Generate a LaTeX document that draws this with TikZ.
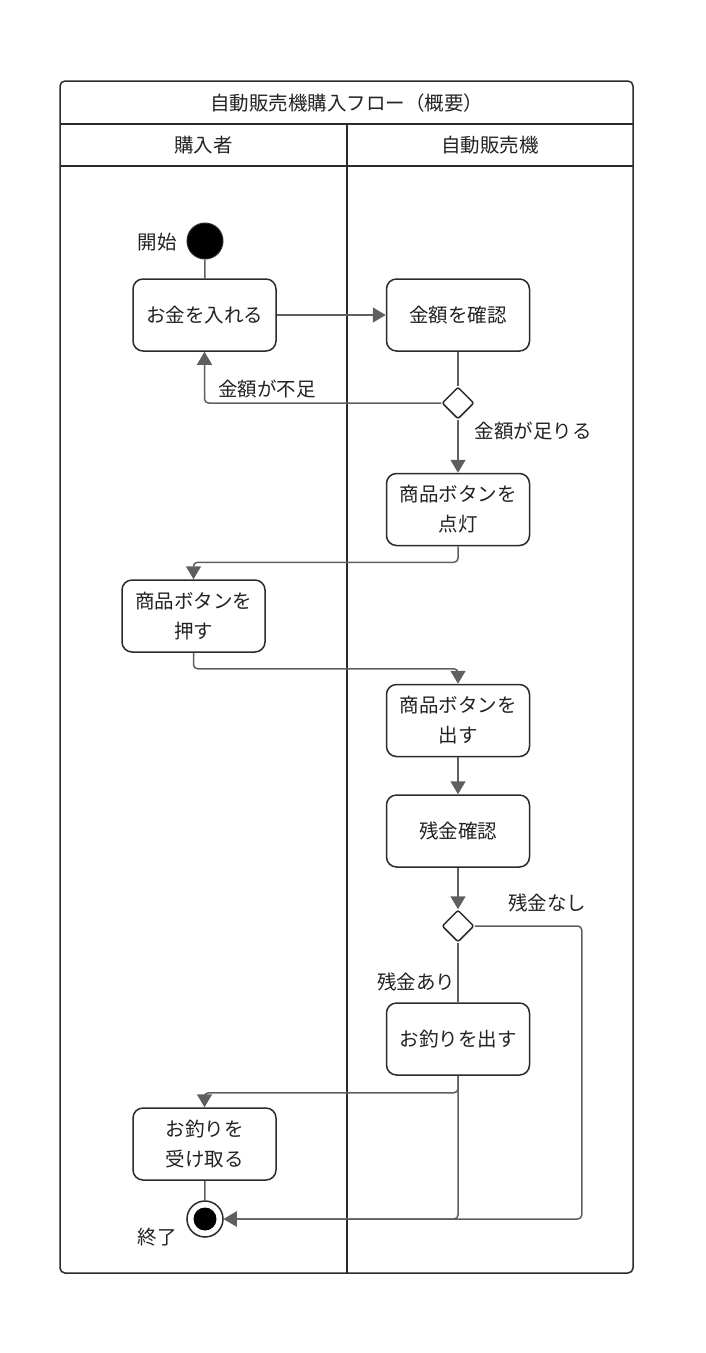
\documentclass[tikz,border=0pt]{standalone}
\usepackage{fontspec}
\setmainfont{Noto Sans CJK JP}
\usetikzlibrary{shapes.geometric,arrows.meta,calc}
\definecolor{edge}{HTML}{5F5F5F}
\definecolor{frame}{HTML}{2B2B2B}
\definecolor{ink}{HTML}{222222}
\tikzset{
  act/.style={draw=frame, line width=1.5pt, rounded corners=10pt, fill=white,
    minimum width=143pt, minimum height=72pt, align=center, inner sep=2pt,
    font=\fontsize{19.5}{30}\selectfont, text=ink},
  dec/.style={draw=frame, line width=1.5pt, diamond, fill=white, minimum width=32pt,
    minimum height=32pt, inner sep=0pt, rounded corners=2pt},
  conn/.style={draw=edge, line width=1.5pt, rounded corners=4pt},
  arr/.style={conn, -{Triangle[length=13pt,width=15pt,fill=edge]}},
  lbl/.style={font=\fontsize{19.5}{22}\selectfont, text=ink, inner sep=0pt},
  lane/.style={draw=frame, line width=1.5pt},
}
\begin{document}
\begin{tikzpicture}[x=1pt,y=-1pt]
\useasboundingbox (0,0) rectangle (706,1353);
% frame
\draw[lane, rounded corners=5pt] (60,81) rectangle (633,1273);
\draw[lane] (60,124) -- (633,124);
\draw[lane] (60,166) -- (633,166);
\draw[lane] (347,124) -- (347,1273);
\node[lbl] (title) at (346.5,103) {自動販売機購入フロー（概要）};
\node[lbl] (lane1) at (203.5,145) {購入者};
\node[lbl] (lane2) at (490,145) {自動販売機};
% nodes
\node[circle, fill=black, draw=frame, line width=1pt, minimum size=36pt, inner sep=0pt] (start) at (205,241) {};
\node[lbl] (startl) at (157,242) {開始};
\node[act] (b1) at (204.5,315) {お金を入れる};
\node[act] (b2) at (458,315) {金額を確認};
\node[dec] (d1) at (458,403) {};
\node[act] (b3) at (458,509.5) {商品ボタンを\\点灯};
\node[act] (b4) at (193.5,616) {商品ボタンを\\押す};
\node[act] (b5) at (458,720.5) {商品ボタンを\\出す};
\node[act] (b6) at (458,831) {残金確認};
\node[dec] (d2) at (458,926) {};
\node[act] (b7) at (458,1039) {お釣りを出す};
\node[act] (b8) at (204.5,1144) {お釣りを\\受け取る};
\node[circle, draw=frame, fill=white, line width=1.5pt, minimum size=36pt, inner sep=0pt] (endo) at (205,1219) {};
\node[circle, fill=black, minimum size=23pt, inner sep=0pt] (endi) at (endo.center) {};
\node[lbl] (endl) at (157,1237) {終了};
% labels
\node[lbl] (l1) at (267,389) {金額が不足};
\node[lbl] (l2) at (533,431) {金額が足りる};
\node[lbl] (l3) at (547,903) {残金なし};
\node[lbl] (l4) at (416,982) {残金あり};
% connectors
\draw[conn] (start) -- (b1);
\draw[arr] (b1) -- (b2);
\draw[conn] (b2) -- (d1);
\draw[arr] (d1.west) -| (b1.south);
\draw[arr] (d1.south) -- (b3.north);
\draw[arr] (b3.south) -- ++(0,16) -| (b4.north);
\draw[arr] (b4.south) -- ++(0,16) -| (b5.north);
\draw[arr] (b5) -- (b6);
\draw[arr] (b6) -- (d2);
\draw[conn] (d2.south) -- (b7.north);
\draw[arr] (b7.south) -- ++(0,17) -| (b8.north);
\draw[arr] (b7.south) |- (endo.east);
\draw[arr] (d2.east) -- ++(107,0) |- (endo.east);
\draw[conn] (b8) -- (endo);
\end{tikzpicture}
\end{document}
